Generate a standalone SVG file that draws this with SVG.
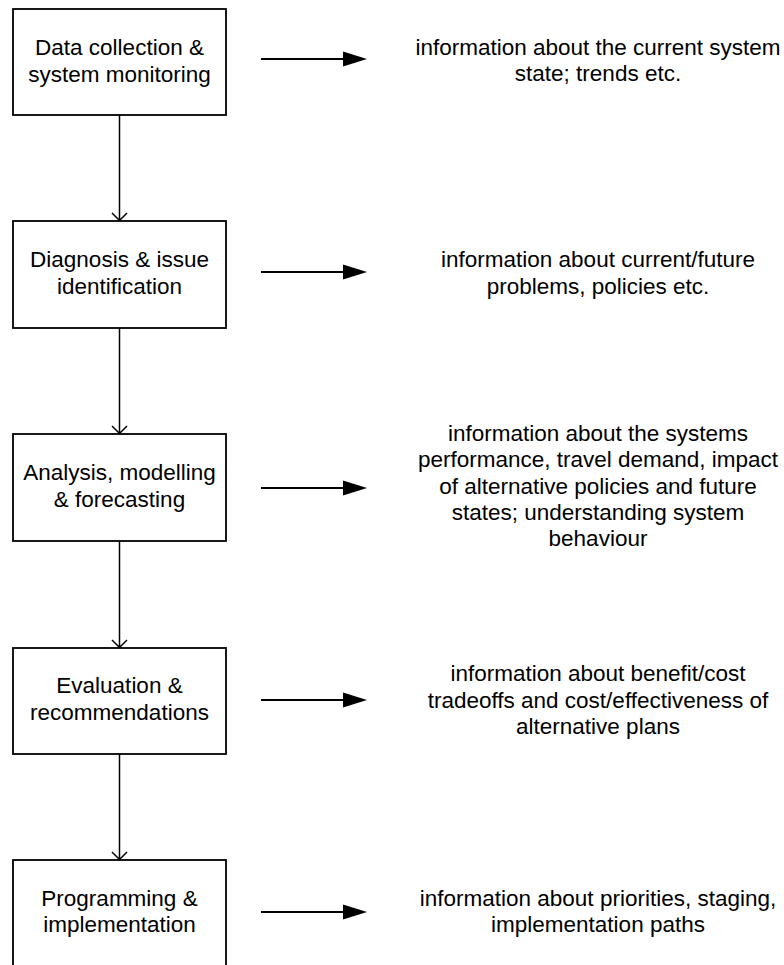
<svg xmlns="http://www.w3.org/2000/svg" width="784" height="965" viewBox="0 0 784 965">
  <style>
    .box { fill: #fff; stroke: #000; stroke-width: 1.8; }
    .lbl { font-family: "Liberation Sans", Arial, sans-serif; font-size: 22.5px; fill: #000; text-anchor: middle; }
    .down { stroke: #000; stroke-width: 1.5; fill: none; }
    .out { stroke: #000; stroke-width: 1.8; fill: none; }
    .head { fill: #000; stroke: none; }
  </style>
  <rect width="784" height="965" fill="#fff"/>

  <!-- process steps -->
  <g id="step-data">
    <rect class="box" x="13" y="9" width="213" height="106"/>
    <text class="lbl" x="119.5" y="55">Data collection &amp;</text>
    <text class="lbl" x="119.5" y="82">system monitoring</text>
  </g>
  <g id="step-diagnosis">
    <rect class="box" x="13" y="221" width="213" height="107"/>
    <text class="lbl" x="119.5" y="267">Diagnosis &amp; issue</text>
    <text class="lbl" x="119.5" y="294">identification</text>
  </g>
  <g id="step-analysis">
    <rect class="box" x="13" y="434" width="213" height="107"/>
    <text class="lbl" x="119.5" y="480">Analysis, modelling</text>
    <text class="lbl" x="119.5" y="507">&amp; forecasting</text>
  </g>
  <g id="step-evaluation">
    <rect class="box" x="13" y="648" width="213" height="106"/>
    <text class="lbl" x="119.5" y="693">Evaluation &amp;</text>
    <text class="lbl" x="119.5" y="720">recommendations</text>
  </g>
  <g id="step-programming">
    <rect class="box" x="13" y="860" width="213" height="107"/>
    <text class="lbl" x="119.5" y="906">Programming &amp;</text>
    <text class="lbl" x="119.5" y="932">implementation</text>
  </g>

  <!-- information outputs -->
  <g id="info-data">
    <text class="lbl" x="598" y="55">information about the current system</text>
    <text class="lbl" x="598" y="81">state; trends etc.</text>
  </g>
  <g id="info-diagnosis">
    <text class="lbl" x="598" y="267">information about current/future</text>
    <text class="lbl" x="598" y="294">problems, policies etc.</text>
  </g>
  <g id="info-analysis">
    <text class="lbl" x="598" y="441">information about the systems</text>
    <text class="lbl" x="598" y="467">performance, travel demand, impact</text>
    <text class="lbl" x="598" y="494">of alternative policies and future</text>
    <text class="lbl" x="598" y="520">states; understanding system</text>
    <text class="lbl" x="598" y="546">behaviour</text>
  </g>
  <g id="info-evaluation">
    <text class="lbl" x="598" y="681">information about benefit/cost</text>
    <text class="lbl" x="598" y="708">tradeoffs and cost/effectiveness of</text>
    <text class="lbl" x="598" y="734">alternative plans</text>
  </g>
  <g id="info-programming">
    <text class="lbl" x="598" y="906">information about priorities, staging,</text>
    <text class="lbl" x="598" y="932">implementation paths</text>
  </g>

  <!-- connectors -->
  <g id="connectors">
    <!-- flow between steps, open arrowheads -->
    <path class="down" d="M119.5 115 V220.5 M112 213 L119.5 220.5 L127 213"/>
    <path class="down" d="M119.5 328 V433.5 M112 426 L119.5 433.5 L127 426"/>
    <path class="down" d="M119.5 541 V647.5 M112 640 L119.5 647.5 L127 640"/>
    <path class="down" d="M119.5 754 V859.5 M112 852 L119.5 859.5 L127 852"/>

    <!-- outputs to the right, filled arrowheads -->
    <path class="out" d="M261 59 H345"/>
    <polygon class="head" points="343,51.5 367,59 343,66.5"/>
    <path class="out" d="M261 272 H345"/>
    <polygon class="head" points="343,264.5 367,272 343,279.5"/>
    <path class="out" d="M261 488 H345"/>
    <polygon class="head" points="343,480.5 367,488 343,495.5"/>
    <path class="out" d="M261 700 H345"/>
    <polygon class="head" points="343,692.5 367,700 343,707.5"/>
    <path class="out" d="M261 912 H345"/>
    <polygon class="head" points="343,904.5 367,912 343,919.5"/>
  </g>
</svg>
